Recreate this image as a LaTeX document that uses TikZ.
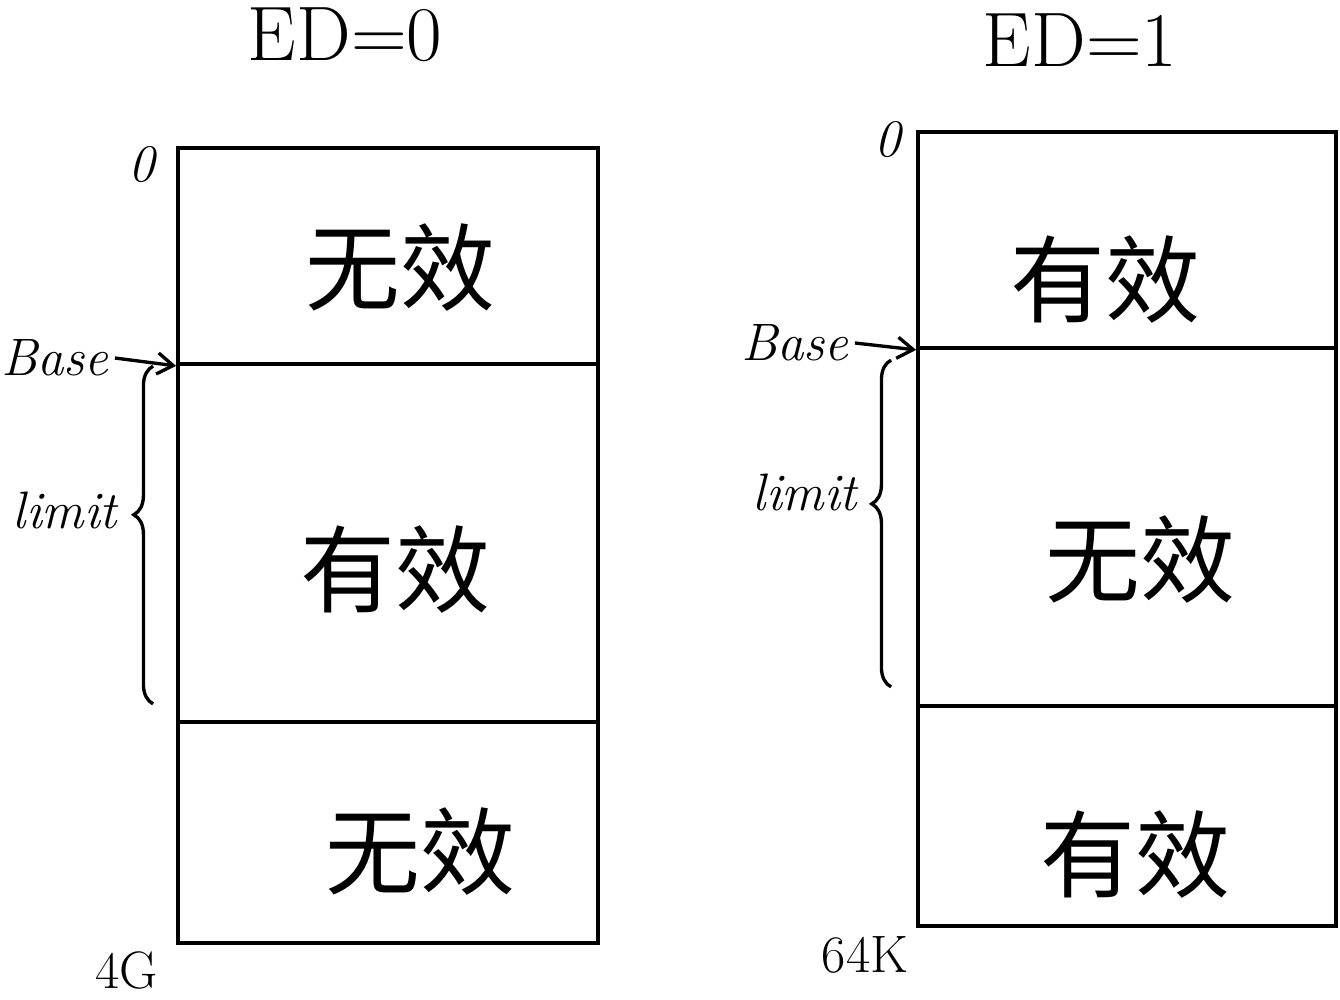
\documentclass[tikz,border=0pt]{standalone}
\usepackage{fontspec}
\newfontfamily\cjk{Noto Sans CJK SC}
\usetikzlibrary{decorations.pathreplacing,arrows.meta,calc}
\begin{document}
\begin{tikzpicture}[x=0.02cm,y=-0.02cm,
  seg/.style={draw, line width=2.2pt, minimum width=8.4cm, inner sep=0pt},
  zh/.style={font=\cjk\fontsize{54}{60}\selectfont},
  lat/.style={font=\itshape\fontsize{30}{34}\selectfont},
  num/.style={font=\fontsize{30}{34}\selectfont},
  ttl/.style={font=\fontsize{44}{50}\selectfont},
  arr/.style={-{Straight Barb[length=9pt,width=12pt]}, line width=1.9pt},
  brc/.style={line width=1.9pt, decorate, decoration={brace, amplitude=11pt, aspect=0.56}}]
\useasboundingbox (0,0) rectangle (1340,1000);
% left column
\node[seg, minimum height=4.32cm] (l1) at (388,256) {};
\node[seg, minimum height=7.16cm] (l2) at (388,543) {};
\node[seg, minimum height=4.42cm] (l3) at (388,832.5) {};
% right column
\node[seg, minimum width=8.36cm, minimum height=4.32cm] (r1) at (1127,240) {};
\node[seg, minimum width=8.36cm, minimum height=7.16cm] (r2) at (1127,527) {};
\node[seg, minimum width=8.36cm, minimum height=4.40cm] (r3) at (1127,816) {};
% titles
\node[ttl] (t0) at (345,35) {ED=0};
\node[ttl] (t1) at (1080,40) {ED=1};
% contents
\node[zh] (za) at (400,268) {无效};
\node[zh] (zb) at (395,570) {有效};
\node[zh] (zc) at (420,852) {无效};
\node[zh] (zd) at (1105,280) {有效};
\node[zh] (ze) at (1140,560) {无效};
\node[zh] (zf) at (1135,855) {有效};
% addresses
\node[lat] (z0l) at (142,165) {0};
\node[lat] (z0r) at (888,140) {0};
\node[num] (endl) at (127,970) {4G};
\node[num] (endr) at (865,955) {64K};
% base arrows
\node[lat] (bl) at (55,358) {Base};
\node[lat] (br) at (795,343) {Base};
\draw[arr] (bl.east) -- (l1.south west);
\draw[arr] (br.east) -- (r1.south west);
% limit braces
\draw[brc] ($(l2.south west)+(-23,-20)$) -- ($(l2.north west)+(-23,4)$);
\draw[brc] ($(r2.south west)+(-25,-21)$) -- ($(r2.north west)+(-25,14)$);
\node[lat] (liml) at (65,510) {limit};
\node[lat] (limr) at (805,492) {limit};
\end{tikzpicture}
\end{document}
